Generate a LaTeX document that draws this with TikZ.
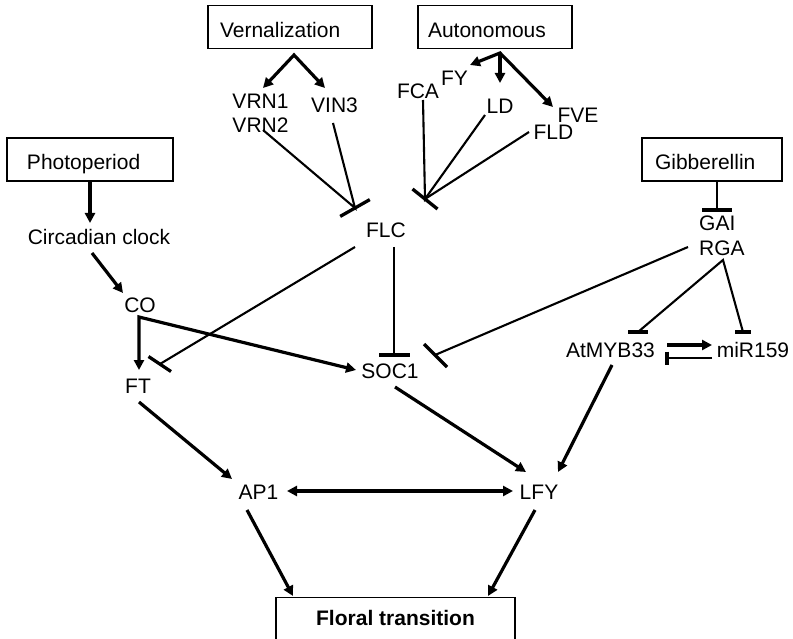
\documentclass[tikz,border=0pt]{standalone}
\usepackage{fontspec}
\setmainfont{Liberation Sans}
\usetikzlibrary{arrows.meta}
\begin{document}
\begin{tikzpicture}[x=1pt,y=-1pt,
  every node/.style={font=\fontsize{21}{25}\selectfont},
  lbl/.style={inner sep=0pt, text height=15.3pt, text depth=0pt},
  pathbox/.style={draw, line width=1.3pt, inner ysep=0pt, minimum height=43pt,
                  align=left, text height=21pt, text depth=0pt},
  act/.style={line width=3.2pt, -{Triangle[length=10pt,width=10pt]}},
  actboth/.style={line width=3.2pt, {Triangle[length=10pt,width=10pt]}-{Triangle[length=10pt,width=10pt]}},
  inh/.style={line width=2.1pt},
  tbar/.style={line width=3.3pt}
]
\useasboundingbox (0,0) rectangle (793,639);
\clip (0,0) rectangle (793,639);

% pathway boxes
\node[pathbox, text width=140pt, inner xsep=12pt] (vern)  at (290,27)  {Vernalization};
\node[pathbox, text width=134pt, inner xsep=10pt] (auto)  at (495,27)  {Autonomous};
\node[pathbox, text width=126pt, inner xsep=20pt] (photo) at (90,159.5)  {Photoperiod};
\node[pathbox, text width=114pt, inner xsep=13pt] (gib)   at (712,159.5) {Gibberellin};
\node[draw, line width=1.3pt, minimum width=239pt, minimum height=60pt, inner ysep=0pt,
      anchor=north, text height=15pt, text depth=20.3pt,
      font={\fontsize{21}{25}\selectfont\bfseries}] (floral) at (395.5,597) {Floral transition};

% genes
\node[lbl] (vrn1) at (260.5,101) {VRN1};
\node[lbl] (vrn2) at (260.5,125) {VRN2};
\node[lbl] (vin3) at (334.5,104.5) {VIN3};
\node[lbl] (fca)  at (418,90.5) {FCA};
\node[lbl] (fy)   at (454.5,77.5) {FY};
\node[lbl] (ld)   at (500,105.5) {LD};
\node[lbl] (fve)  at (578,114.5) {FVE};
\node[lbl] (fld)  at (553.5,132) {FLD};
\node[lbl] (clock) at (99,237) {Circadian clock};
\node[lbl] (flc)  at (386,230) {FLC};
\node[lbl, anchor=west] (gai) at (699,223) {GAI};
\node[lbl, anchor=west] (rga) at (699,248) {RGA};
\node[lbl] (co)   at (140,305) {CO};
\node[lbl] (ft)   at (138,386) {FT};
\node[lbl] (soc1) at (390,371) {SOC1};
\node[lbl] (myb)  at (610.5,350) {AtMYB33};
\node[lbl] (mir)  at (753,350) {miR159};
\node[lbl] (ap1)  at (258.5,492) {AP1};
\node[lbl] (lfy)  at (539,492) {LFY};

% connector end points
\coordinate (vern-a)   at (294,55);
\coordinate (vrn1-in)  at (263,88);
\coordinate (vin3-in)  at (325,88);
\coordinate (auto-a)   at (500,53);
\coordinate (fy-in)    at (470,65);
\coordinate (ld-in)    at (500,83);
\coordinate (fve-in)   at (553,107);
\coordinate (vrn2-out) at (263,130);
\coordinate (vin3-out) at (333,123);
\coordinate (flc-vj)   at (355,208);
\coordinate (fca-out)  at (423,100);
\coordinate (ld-out)   at (485,115);
\coordinate (fld-out)  at (529,132);
\coordinate (flc-aj)   at (425,199);
\coordinate (clock-in) at (90,223);
\coordinate (clock-out) at (92,253);
\coordinate (co-in)    at (123,293);
\coordinate (co-out)   at (139,317);
\coordinate (ft-in)    at (139,370);
\coordinate (soc1-in)  at (356,370);
\coordinate (flc-out1) at (355,247);
\coordinate (ft-bar)   at (160,364);
\coordinate (flc-out2) at (394,247);
\coordinate (soc1-bar1) at (394,355);
\coordinate (gib-out)  at (717,181);
\coordinate (gai-bar)  at (717,210);
\coordinate (rga-out1) at (688,247);
\coordinate (soc1-bar2) at (435,355);
\coordinate (rga-out2) at (723,260);
\coordinate (myb-bar)  at (638,332);
\coordinate (mir-bar)  at (743,332);
\coordinate (myb-out)  at (667,345);
\coordinate (mir-in)   at (712,345);
\coordinate (mir-out)  at (712,358);
\coordinate (myb-bar2) at (667,358);
\coordinate (ft-out)   at (139,402);
\coordinate (ap1-in)   at (232,479);
\coordinate (soc1-out) at (395,387);
\coordinate (lfy-in1)  at (526,472);
\coordinate (myb-out2) at (612,365);
\coordinate (lfy-in2)  at (558,472);
\coordinate (ap1-e)    at (287,491);
\coordinate (lfy-w)    at (513,491);
\coordinate (ap1-out)  at (247,510);
\coordinate (floral-in1) at (293,596);
\coordinate (lfy-out)  at (535,510);
\coordinate (floral-in2) at (488,596);

% activation
\draw[actboth] (vrn1-in) -- (vern-a) -- (vin3-in);
\draw[actboth] (fy-in) -- (auto-a) -- (fve-in);
\draw[act] (auto-a) -- (ld-in);
\draw[act] (photo.south) -- (clock-in);
\draw[act] (clock-out) -- (co-in);
\draw[actboth] (ft-in) -- (co-out) -- (soc1-in);
\draw[act] (ft-out) -- (ap1-in);
\draw[act] (soc1-out) -- (lfy-in1);
\draw[act] (myb-out2) -- (lfy-in2);
\draw[actboth] (ap1-e) -- (lfy-w);
\draw[act] (ap1-out) -- (floral-in1);
\draw[act] (lfy-out) -- (floral-in2);
\draw[act] (myb-out) -- (mir-in);

% repression
\draw[inh] (vrn2-out) -- (flc-vj) -- (vin3-out);
\draw[tbar] (340.2,216.4) -- (369.8,199.6);
\draw[inh] (fca-out) -- (flc-aj) -- (ld-out);
\draw[inh] (fld-out) -- (flc-aj);
\draw[tbar] (412.5,189) -- (437.5,209);
\draw[inh] (gib-out) -- (gai-bar);
\draw[tbar] (702,210) -- (732,210);
\draw[inh] (flc-out1) -- (ft-bar);
\draw[tbar] (148.5,356.5) -- (171,371.5);
\draw[inh] (flc-out2) -- (soc1-bar1);
\draw[tbar] (379,355) -- (410,355);
\draw[inh] (rga-out1) -- (soc1-bar2);
\draw[tbar] (424,344) -- (447,367);
\draw[inh] (myb-bar) -- (rga-out2) -- (mir-bar);
\draw[tbar] (628,332) -- (648,332);
\draw[tbar] (735,332) -- (751,332);
\draw[inh] (mir-out) -- (myb-bar2);
\draw[tbar] (667,351.5) -- (667,365);
\end{tikzpicture}
\end{document}
